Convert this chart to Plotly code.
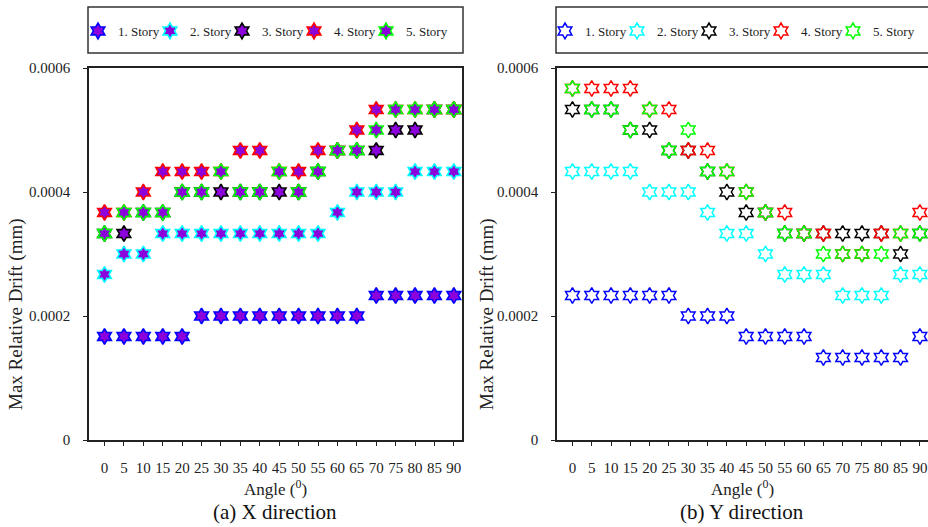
import plotly.graph_objects as go

angles = ["0", "5", "10", "15", "20", "25", "30", "35", "40", "45",
          "50", "55", "60", "65", "70", "75", "80", "85", "90"]
series_names = ["1. Story", "2. Story", "3. Story", "4. Story", "5. Story"]
series_colors = ["#0000FF", "#00FFFF", "#000000", "#FF0000", "#00FF00"]

# X direction (mm)
x_story1 = [0.000167, 0.000167, 0.000167, 0.000167, 0.000167, 0.0002, 0.0002, 0.0002, 0.0002, 0.0002,
            0.0002, 0.0002, 0.0002, 0.0002, 0.000233, 0.000233, 0.000233, 0.000233, 0.000233]
x_story2 = [0.000267, 0.0003, 0.0003, 0.000333, 0.000333, 0.000333, 0.000333, 0.000333, 0.000333, 0.000333,
            0.000333, 0.000333, 0.000367, 0.0004, 0.0004, 0.0004, 0.000433, 0.000433, 0.000433]
x_story3 = [0.000333, 0.000333, 0.000367, 0.000367, 0.0004, 0.0004, 0.0004, 0.0004, 0.0004, 0.0004,
            0.0004, 0.000433, 0.000467, 0.000467, 0.000467, 0.0005, 0.0005, 0.000533, 0.000533]
x_story4 = [0.000367, 0.000367, 0.0004, 0.000433, 0.000433, 0.000433, 0.000433, 0.000467, 0.000467, 0.000433,
            0.000433, 0.000467, 0.000467, 0.0005, 0.000533, 0.000533, 0.000533, 0.000533, 0.000533]
x_story5 = [0.000333, 0.000367, 0.000367, 0.000367, 0.0004, 0.0004, 0.000433, 0.0004, 0.0004, 0.000433,
            0.0004, 0.000433, 0.000467, 0.000467, 0.0005, 0.000533, 0.000533, 0.000533, 0.000533]

# Y direction (mm)
y_story1 = [0.000233, 0.000233, 0.000233, 0.000233, 0.000233, 0.000233, 0.0002, 0.0002, 0.0002, 0.000167,
            0.000167, 0.000167, 0.000167, 0.000133, 0.000133, 0.000133, 0.000133, 0.000133, 0.000167]
y_story2 = [0.000433, 0.000433, 0.000433, 0.000433, 0.0004, 0.0004, 0.0004, 0.000367, 0.000333, 0.000333,
            0.0003, 0.000267, 0.000267, 0.000267, 0.000233, 0.000233, 0.000233, 0.000267, 0.000267]
y_story3 = [0.000533, 0.000533, 0.000533, 0.0005, 0.0005, 0.000467, 0.000467, 0.000433, 0.0004, 0.000367,
            0.000367, 0.000333, 0.000333, 0.000333, 0.000333, 0.000333, 0.000333, 0.0003, 0.000333]
y_story4 = [0.000567, 0.000567, 0.000567, 0.000567, 0.000533, 0.000533, 0.000467, 0.000467, 0.000433, 0.0004,
            0.000367, 0.000367, 0.000333, 0.000333, 0.0003, 0.0003, 0.000333, 0.000333, 0.000367]
y_story5 = [0.000567, 0.000533, 0.000533, 0.0005, 0.000533, 0.000467, 0.0005, 0.000433, 0.000433, 0.0004,
            0.000367, 0.000333, 0.000333, 0.0003, 0.0003, 0.0003, 0.0003, 0.000333, 0.000333]

y_tick_vals = [0, 0.0002, 0.0004, 0.0006]
y_tick_text = ["0", "0.0002", "0.0004", "0.0006"]

x_data = [x_story1, x_story2, x_story3, x_story4, x_story5]
y_data = [y_story1, y_story2, y_story3, y_story4, y_story5]

FONT = "Liberation Serif, Times New Roman, serif"
W, H = 928, 527
idx = list(range(len(angles)))
n_series = len(series_names)

def entry_w(i):
    # last legend entry gets room so its label is not clipped
    return 55 if i == n_series - 1 else 27

fig = go.Figure()
for i, (name, color, vals) in enumerate(zip(series_names, series_colors, x_data)):
    fig.add_trace(go.Scatter(
        x=idx, y=vals, mode="markers", name=name, legend="legend", legendwidth=entry_w(i),
        marker=dict(symbol="hexagram", size=12, color="#8C00DC",
                    line=dict(color=color, width=1.6)),
        xaxis="x", yaxis="y"))
for i, (name, color, vals) in enumerate(zip(series_names, series_colors, y_data)):
    fig.add_trace(go.Scatter(
        x=idx, y=vals, mode="markers", name=name, legend="legend2", legendwidth=entry_w(i),
        marker=dict(symbol="hexagram-open", size=12, color=color,
                    line=dict(color=color, width=1.5)),
        xaxis="x2", yaxis="y2"))

def px_x(p):
    return p / W

def px_y(p):
    return 1 - p / H

ydom = [px_y(440), px_y(68)]
xr = [-0.8, 18.42]

axis_common = dict(
    showgrid=False, zeroline=False, showline=True, linecolor="#222222", linewidth=1.5,
    ticks="outside", ticklen=4, tickcolor="#222222",
    tickfont=dict(family=FONT, size=15, color="#222222"),
)

legend_common = dict(orientation="h", xanchor="left", y=px_y(31), yanchor="middle",
                     font=dict(family=FONT, size=13, color="#222222"), itemwidth=30,
                     entrywidth=27, bgcolor="rgba(0,0,0,0)", tracegroupgap=0)

def ann(text, x, y, size, angle=0, color="#222222"):
    return dict(text=text, x=px_x(x), y=px_y(y), xref="paper", yref="paper",
                xanchor="center", yanchor="middle", textangle=angle, showarrow=False,
                font=dict(family=FONT, size=size, color=color))

fig.update_layout(
    width=W, height=H, margin=dict(l=0, r=0, t=0, b=0, autoexpand=False),
    paper_bgcolor="white", plot_bgcolor="white",
    font=dict(family=FONT),
    showlegend=True,
    xaxis=dict(domain=[px_x(89), px_x(462)], range=xr, tickvals=idx, ticktext=angles,
               mirror=True, anchor="y", ticklabelstandoff=9, **axis_common),
    yaxis=dict(domain=ydom, range=[0, 0.0006], tickvals=y_tick_vals, ticktext=y_tick_text,
               mirror=True, anchor="x", ticklabelstandoff=10, **axis_common),
    xaxis2=dict(domain=[px_x(557), 1.0], range=xr, tickvals=idx, ticktext=angles,
                mirror=True, anchor="y2", ticklabelstandoff=9, **axis_common),
    yaxis2=dict(domain=ydom, range=[0, 0.0006], tickvals=y_tick_vals, ticktext=y_tick_text,
                mirror=False, anchor="x2", ticklabelstandoff=10, **axis_common),
    legend=dict(x=px_x(78), **legend_common),
    legend2=dict(x=px_x(545), **legend_common),
    shapes=[
        dict(type="rect", xref="paper", yref="paper", x0=px_x(88), x1=px_x(463),
             y0=px_y(53), y1=px_y(7), line=dict(color="#333333", width=1.5)),
        dict(type="rect", xref="paper", yref="paper", x0=px_x(556), x1=px_x(940),
             y0=px_y(53), y1=px_y(7), line=dict(color="#333333", width=1.5)),
    ],
    annotations=[
        ann("Max Relative Drift (mm)", 16, 314, 19, angle=-90),
        ann("Max Relative Drift (mm)", 487, 314, 19, angle=-90),
        ann("Angle (<sup>0</sup>)", 275, 488, 17),
        ann("Angle (<sup>0</sup>)", 742, 488, 17),
        ann("(a) X direction", 275, 512, 21, color="#111111"),
        ann("(b) Y direction", 742, 512, 21, color="#111111"),
    ],
)

fig.write_html("out.html")
